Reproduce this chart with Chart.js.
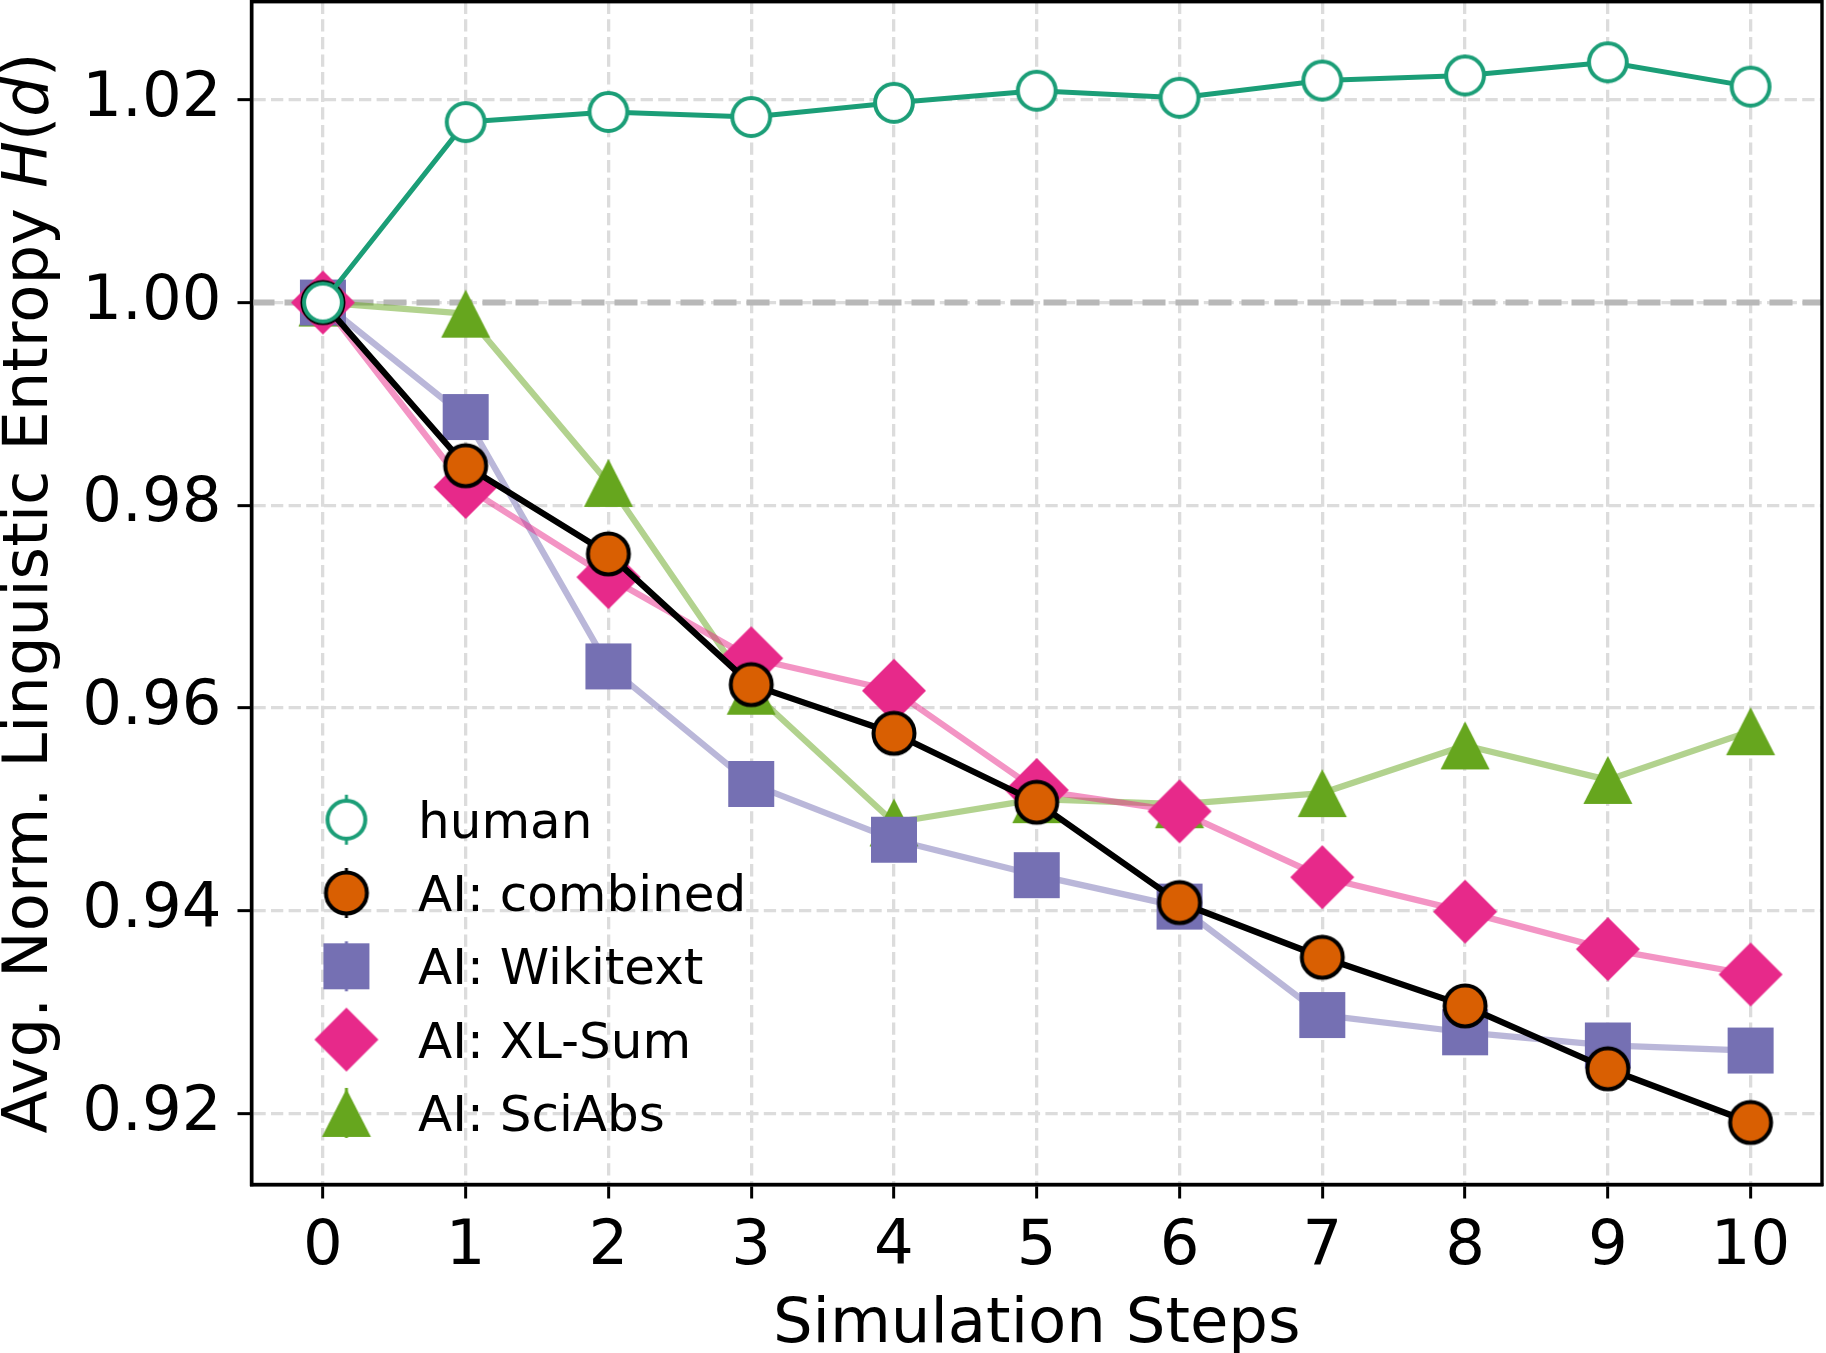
<!DOCTYPE html>
<html>
<head>
<meta charset="utf-8">
<script src="https://cdn.jsdelivr.net/npm/chart.js@4/dist/chart.umd.min.js"></script>
<style>
html,body{margin:0;padding:0;background:#fff;}
canvas{display:block;}
</style>
</head>
<body>
<canvas id="c" width="1826" height="1353"></canvas>
<script>
// ---- data ----
const steps = [0, 1, 2, 3, 4, 5, 6, 7, 8, 9, 10];
const xTickValues = [0, 1, 2, 3, 4, 5, 6, 7, 8, 9, 10];
const yTickValues = [0.92, 0.94, 0.96, 0.98, 1.00, 1.02];
const yTickLabels = ['0.92', '0.94', '0.96', '0.98', '1.00', '1.02'];
const seriesLabels = ['human', 'AI: combined', 'AI: Wikitext', 'AI: XL-Sum', 'AI: SciAbs'];
const human    = [1.0000, 1.0178, 1.0188, 1.0183, 1.0197, 1.0209, 1.0202, 1.0219, 1.0224, 1.0237, 1.0213];
const combined = [1.0000, 0.9839, 0.9752, 0.9623, 0.9575, 0.9507, 0.9408, 0.9354, 0.9306, 0.9244, 0.9191];
const wikitext = [1.0000, 0.9887, 0.9641, 0.9525, 0.9470, 0.9435, 0.9404, 0.9297, 0.9280, 0.9267, 0.9262];
const xlsum    = [1.0000, 0.9818, 0.9729, 0.9649, 0.9617, 0.9519, 0.9498, 0.9433, 0.9399, 0.9362, 0.9337];
const sciabs   = [1.0000, 0.9989, 0.9822, 0.9617, 0.9487, 0.9510, 0.9505, 0.9516, 0.9563, 0.9529, 0.9577];
const referenceLevel = 1.00;
const xLabel = 'Simulation Steps';
const yLabelParts = [['Avg. Norm. Linguistic Entropy ', false], ['H', true], ['(', false], ['d', true], [')', false]];

// ---- styling ----
const FONT = "'DejaVu Sans'";
const C_HUMAN = '#1b9e77', C_COMB = '#d95f02', C_WIKI = '#7570b3', C_XL = '#e7298a', C_SCI = '#66a61e';

function makeMarker(kind, withErr) {
  const S = 72, c = S / 2;
  const cv = document.createElement('canvas');
  cv.width = S; cv.height = S;
  const g = cv.getContext('2d');
  const errColor = {human: C_HUMAN, comb: '#000', wiki: C_WIKI, xl: C_XL, sci: C_SCI}[kind];
  if (withErr) {
    g.strokeStyle = errColor; g.lineWidth = 3;
    g.beginPath(); g.moveTo(c, c - 25); g.lineTo(c, c + 25); g.stroke();
  }
  g.beginPath();
  if (kind === 'human') {
    g.arc(c, c, 18.9, 0, Math.PI * 2);
    g.fillStyle = '#fff'; g.fill();
    g.lineWidth = 4; g.strokeStyle = C_HUMAN; g.stroke();
  } else if (kind === 'comb') {
    g.arc(c, c, 20.5, 0, Math.PI * 2);
    g.fillStyle = C_COMB; g.fill();
    g.lineWidth = 4; g.strokeStyle = '#000'; g.stroke();
  } else if (kind === 'wiki') {
    g.fillStyle = C_WIKI; g.fillRect(c - 23, c - 23, 46, 46);
  } else if (kind === 'xl') {
    g.moveTo(c, c - 32); g.lineTo(c + 32, c); g.lineTo(c, c + 32); g.lineTo(c - 32, c); g.closePath();
    g.fillStyle = C_XL; g.fill();
  } else if (kind === 'sci') {
    g.moveTo(c, c - 24); g.lineTo(c + 24.5, c + 24); g.lineTo(c - 24.5, c + 24); g.closePath();
    g.fillStyle = C_SCI; g.fill();
  }
  return cv;
}
const kinds = ['human', 'comb', 'wiki', 'xl', 'sci'];
const markers = kinds.map(k => makeMarker(k, false));
const legendMarkers = kinds.map(k => makeMarker(k, true));

const pts = arr => steps.map((s, i) => ({x: s, y: arr[i]}));

function lineDS(label, arr, color, width, marker, order) {
  return {
    label, data: pts(arr), borderColor: color, borderWidth: width,
    pointStyle: marker, pointRadius: 22, pointHoverRadius: 22,
    borderJoinStyle: 'round', borderCapStyle: 'butt',
    tension: 0, clip: false, order
  };
}

const datasets = [
  lineDS(seriesLabels[0], human, C_HUMAN, 5, markers[0], 0),
  lineDS(seriesLabels[1], combined, '#000', 6.25, markers[1], 1),
  lineDS(seriesLabels[2], wikitext, 'rgba(117,112,179,0.5)', 6.25, markers[2], 3),
  lineDS(seriesLabels[3], xlsum, 'rgba(231,41,138,0.5)', 6.25, markers[3], 2),
  lineDS(seriesLabels[4], sciabs, 'rgba(102,166,30,0.5)', 6.25, markers[4], 4),
  {
    label: 'ref', data: [{x: -0.5, y: referenceLevel}, {x: 10.5, y: referenceLevel}],
    borderColor: '#b8b8b8', borderWidth: 6, borderDash: [23, 10], pointRadius: 0,
    borderCapStyle: 'butt', clip: false, order: 10
  }
];

const decor = {
  id: 'decor',
  afterDraw(chart) {
    const ctx = chart.ctx, a = chart.chartArea;
    ctx.save();
    // frame
    ctx.strokeStyle = '#000'; ctx.lineWidth = 3.4; ctx.setLineDash([]);
    ctx.strokeRect(a.left, a.top, a.right - a.left, a.bottom - a.top);
    // x title
    ctx.fillStyle = '#000';
    ctx.font = "62.5px " + FONT;
    ctx.textAlign = 'center'; ctx.textBaseline = 'alphabetic';
    ctx.fillText(xLabel, (a.left + a.right) / 2, 1342);
    // y title (mixed italic)
    let total = 0;
    const widths = yLabelParts.map(([t, it]) => {
      ctx.font = (it ? 'italic ' : '') + "62.5px " + FONT;
      const w = ctx.measureText(t).width; total += w; return w;
    });
    ctx.save();
    ctx.translate(46.7, (a.top + a.bottom) / 2 + total / 2);
    ctx.rotate(-Math.PI / 2);
    ctx.textAlign = 'left';
    let xx = 0;
    yLabelParts.forEach(([t, it], i) => {
      ctx.font = (it ? 'italic ' : '') + "62.5px " + FONT;
      ctx.fillText(t, xx, 0);
      xx += widths[i];
    });
    ctx.restore();
    // legend
    ctx.font = "50px " + FONT;
    ctx.textAlign = 'left'; ctx.textBaseline = 'alphabetic';
    seriesLabels.forEach((lab, i) => {
      const yc = 819.7 + i * 73.3;
      const m = legendMarkers[i];
      ctx.drawImage(m, 346.4 - m.width / 2, yc - m.height / 2);
      ctx.fillText(lab, 418, yc + 18);
    });
    ctx.restore();
  }
};

Chart.defaults.font.family = FONT;
Chart.defaults.color = '#000';

new Chart(document.getElementById('c'), {
  type: 'line',
  data: {datasets},
  options: {
    responsive: false,
    animation: false,
    devicePixelRatio: 1,
    layout: {autoPadding: false, padding: {left: 0, top: 1.7, right: 4, bottom: 0}},
    plugins: {legend: {display: false}, tooltip: {enabled: false}},
    events: [],
    scales: {
      x: {
        type: 'linear', min: -0.5, max: 10.5,
        afterBuildTicks: s => { s.ticks = xTickValues.map(v => ({value: v})); },
        afterFit: s => { s.height = 168.5; s.paddingLeft = 0; s.paddingRight = 0; },
        ticks: {font: {size: 62.5, family: FONT}, color: '#000', padding: 12, maxRotation: 0, autoSkip: false,
                callback: v => String(v)},
        grid: {color: '#dcdcdc', lineWidth: 3.3, tickLength: 14, tickWidth: 3, tickColor: '#000', tickBorderDash: []},
        border: {display: true, color: '#000', width: 3.4, dash: [12.3, 5.3]},
        title: {display: false}
      },
      y: {
        type: 'linear', min: 0.91298, max: 1.02968,
        afterBuildTicks: s => { s.ticks = yTickValues.map(v => ({value: v})); },
        afterFit: s => { s.width = 251.5; s.paddingTop = 0; s.paddingBottom = 0; },
        ticks: {font: {size: 62.5, family: FONT}, color: '#000', padding: 16, autoSkip: false,
                callback: (v) => { const i = yTickValues.findIndex(t => Math.abs(t - v) < 1e-9); return i >= 0 ? yTickLabels[i] : ''; }},
        grid: {color: '#dcdcdc', lineWidth: 3.3, tickLength: 14, tickWidth: 3, tickColor: '#000', tickBorderDash: []},
        border: {display: true, color: '#000', width: 3.4, dash: [12.3, 5.3]},
        title: {display: false}
      }
    }
  },
  plugins: [decor]
});
</script>
</body>
</html>
